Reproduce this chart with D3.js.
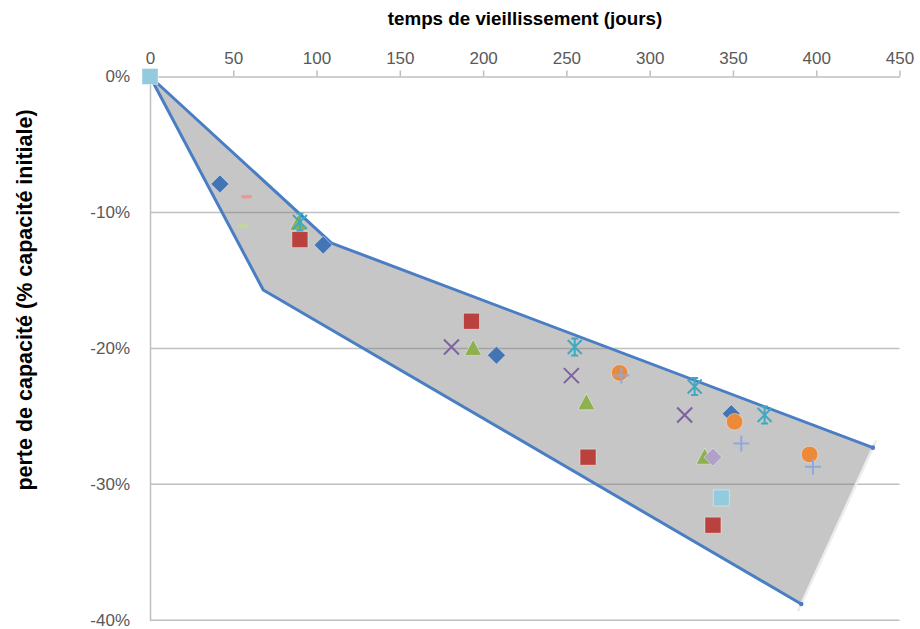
<!DOCTYPE html>
<html><head><meta charset="utf-8">
<script src="https://cdn.jsdelivr.net/npm/d3@7"></script>
<style>html,body{margin:0;padding:0;background:#fff;}svg{display:block;}</style>
</head><body>
<svg id="chart" width="920" height="629"></svg>
<script>
// ---- data ----
const xTicks = [0, 50, 100, 150, 200, 250, 300, 350, 400, 450];
const yTicks = [0, -10, -20, -30, -40];
const xTitle = "temps de vieillissement (jours)";
const yTitle = "perte de capacité (% capacité initiale)";

// envelope
const upperDays = [0, 109, 434];
const upperLoss = [0, -12.25, -27.3];
const lowerDays = [0, 68, 391];
const lowerLoss = [0, -15.7, -38.8];

// series (drawing order)
const s1Days = [42, 104, 208, 349];      const s1Loss = [-7.9, -12.4, -20.5, -24.8];   // blue diamond
const s2Days = [90, 193, 263, 338];      const s2Loss = [-12.0, -18.0, -28.0, -33.0];  // red square
const s3Days = [89, 194, 262, 333];      const s3Loss = [-10.8, -20.0, -24.0, -28.0];  // green triangle
const s4Days = [181, 253, 321];          const s4Loss = [-19.9, -22.0, -24.9];         // purple x
const s5Days = [90, 255, 327, 369];      const s5Loss = [-10.7, -19.9, -22.8, -24.9];  // cyan star
const s6Days = [282, 351, 396];          const s6Loss = [-21.8, -25.4, -27.8];         // orange circle
const s7Days = [283, 355, 398];          const s7Loss = [-22.0, -27.0, -28.7];         // light blue plus
const s8Days = [0, 343];                 const s8Loss = [0, -31.0];                    // light blue square
const s9Days = [338];                    const s9Loss = [-28.0];                       // lavender diamond
const s10Days = [58];                    const s10Loss = [-8.85];                      // pink dash
const s11Days = [56];                    const s11Loss = [-11.0];                      // light green dash

const series = [
  {days: s1Days, loss: s1Loss, shape: "diamond", color: "#4375b4"},
  {days: s2Days, loss: s2Loss, shape: "square", color: "#b9423f"},
  {days: s3Days, loss: s3Loss, shape: "triangle", color: "#8fb04e"},
  {days: s4Days, loss: s4Loss, shape: "x", color: "#7d60a0"},
  {days: s5Days, loss: s5Loss, shape: "star", color: "#3fa9c0"},
  {days: s6Days, loss: s6Loss, shape: "circle", color: "#ec8a3a"},
  {days: s7Days, loss: s7Loss, shape: "plus", color: "#8ea9db"},
  {days: s8Days, loss: s8Loss, shape: "square", color: "#92cbdd"},
  {days: s9Days, loss: s9Loss, shape: "diamond", color: "#b1a0c8"},
  {days: s10Days, loss: s10Loss, shape: "dash", color: "#e89896"},
  {days: s11Days, loss: s11Loss, shape: "dash", color: "#c2d898"}
];

// ---- chart ----
const svg = d3.select("#chart");
const x = d3.scaleLinear().domain([0, 450]).range([150, 899.5]);
const y = d3.scaleLinear().domain([-40, 0]).range([620.3, 76.5]);
const font = "'Liberation Sans', Arial, sans-serif";

// gridlines
svg.append("g")
  .selectAll("line").data(yTicks.filter(d => d !== 0)).join("line")
  .attr("x1", x(0)).attr("x2", x(450))
  .attr("y1", d => y(d)).attr("y2", d => y(d))
  .attr("stroke", "#c0c0c0").attr("stroke-width", 1.5);

// y axis
const yAxis = svg.append("g").attr("transform", `translate(${x(0)},0)`)
  .call(d3.axisLeft(y).tickValues(yTicks).tickSize(0).tickPadding(20).tickFormat(d => d + "%"));
yAxis.select(".domain").attr("stroke", "#bfbfbf").attr("stroke-width", 1.5);
yAxis.selectAll("text").attr("font-family", font).attr("font-size", 17).attr("fill", "#595959");

// x axis (top)
const xAxis = svg.append("g").attr("transform", `translate(0,${y(0)})`)
  .call(d3.axisTop(x).tickValues(xTicks).tickSize(6).tickSizeOuter(0).tickPadding(7));
xAxis.select(".domain").attr("stroke", "#bfbfbf").attr("stroke-width", 1.5);
xAxis.selectAll(".tick line").attr("stroke", "#bfbfbf").attr("stroke-width", 1.5);
xAxis.selectAll("text").attr("font-family", font).attr("font-size", 17).attr("fill", "#595959");

// envelope polygon
const envPts = upperDays.map((d, i) => [x(d), y(upperLoss[i])])
  .concat(lowerDays.map((d, i) => [x(d), y(lowerLoss[i])]).reverse());
svg.append("path")
  .attr("d", "M" + envPts.map(p => p.join(",")).join("L") + "Z")
  .attr("fill", "rgba(128,128,128,0.45)").attr("stroke", "none");
// right edge faint line
const ux = upperDays[upperDays.length - 1], uy = upperLoss[upperLoss.length - 1];
const lx = lowerDays[lowerDays.length - 1], ly = lowerLoss[lowerLoss.length - 1];
const p1 = [x(ux), y(uy)], p2 = [x(lx), y(ly)];
const dx = p2[0] - p1[0], dy = p2[1] - p1[1], len = Math.hypot(dx, dy);
svg.append("line")
  .attr("x1", p1[0] - dx / len * 8).attr("y1", p1[1] - dy / len * 8)
  .attr("x2", p2[0] + dx / len * 8).attr("y2", p2[1] + dy / len * 8)
  .attr("stroke", "#ececec").attr("stroke-width", 2.5);
const line = d3.line().x(d => x(d[0])).y(d => y(d[1]));
[[upperDays, upperLoss], [lowerDays, lowerLoss]].forEach(([ds, ls]) => {
  svg.append("path").datum(ds.map((d, i) => [d, ls[i]]))
    .attr("d", line).attr("fill", "none")
    .attr("stroke", "#4a7ec4").attr("stroke-width", 3).attr("stroke-linejoin", "round");
});
svg.append("circle").attr("cx", p1[0]).attr("cy", p1[1]).attr("r", 2.3).attr("fill", "#4a7ec4");
svg.append("circle").attr("cx", p2[0]).attr("cy", p2[1]).attr("r", 2.3).attr("fill", "#4a7ec4");

// markers
function drawMarker(g, shape, color) {
  switch (shape) {
    case "diamond":
      g.append("path").attr("d", "M0,-9L9,0L0,9L-9,0Z").attr("fill", color)
        .attr("stroke", "rgba(255,255,255,0.5)").attr("stroke-width", 0.8); break;
    case "square":
      g.append("rect").attr("x", -8).attr("y", -8).attr("width", 16).attr("height", 16).attr("fill", color)
        .attr("stroke", "rgba(255,255,255,0.5)").attr("stroke-width", 0.8); break;
    case "triangle":
      g.append("path").attr("d", "M0,-9L8.5,7L-8.5,7Z").attr("fill", color)
        .attr("stroke", "rgba(255,255,255,0.5)").attr("stroke-width", 0.8); break;
    case "circle":
      g.append("circle").attr("r", 8.3).attr("fill", color)
        .attr("stroke", "rgba(255,255,255,0.5)").attr("stroke-width", 0.8); break;
    case "x":
      g.append("path").attr("d", "M-7.5,-7.5L7.5,7.5M7.5,-7.5L-7.5,7.5").attr("stroke", color).attr("stroke-width", 2); break;
    case "star":
      g.append("path").attr("d", "M-7,-7L7,7M7,-7L-7,7M0,-9L0,9M-3.5,-8.5L3.5,-8.5M-3.5,8.5L3.5,8.5")
        .attr("stroke", color).attr("stroke-width", 2); break;
    case "plus":
      g.append("path").attr("d", "M-8,0L8,0M0,-8L0,8").attr("stroke", color).attr("stroke-width", 2); break;
    case "dash":
      g.append("rect").attr("x", -5.5).attr("y", -1.8).attr("width", 11).attr("height", 3.6).attr("rx", 1.8).attr("fill", color); break;
  }
}
series.forEach(s => {
  s.days.forEach((d, i) => {
    const g = svg.append("g").attr("transform", `translate(${x(d)},${y(s.loss[i])})`);
    drawMarker(g, s.shape, s.color);
  });
});

// titles
svg.append("text").attr("x", 525).attr("y", 24.5).attr("text-anchor", "middle")
  .attr("font-family", font).attr("font-weight", "bold").attr("font-size", 18.8).attr("fill", "#000")
  .text(xTitle);
svg.append("text").attr("transform", "translate(32,300) rotate(-90)").attr("text-anchor", "middle")
  .attr("font-family", font).attr("font-weight", "bold").attr("font-size", 21.5).attr("fill", "#000")
  .text(yTitle);
</script>
</body></html>
